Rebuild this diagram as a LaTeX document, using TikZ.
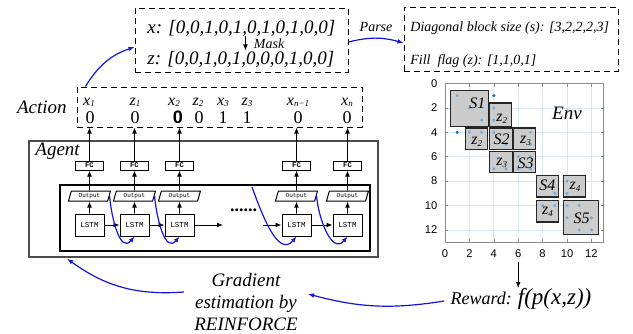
\documentclass[tikz,border=0pt]{standalone}
\usepackage{fontspec}
\setmainfont{Liberation Serif}
\setsansfont{Liberation Sans}
\setmonofont{Liberation Mono}
\usetikzlibrary{arrows.meta,positioning,shapes.geometric}

\definecolor{fbblue}{RGB}{20,20,220}
\definecolor{dotlight}{RGB}{120,170,215}
\definecolor{dotdark}{RGB}{0,110,200}
\definecolor{gridc}{RGB}{222,232,242}

% small index set a bit below the baseline
\newcommand{\lowsub}[1]{\raisebox{-0.25ex}{\fontsize{4.5}{5}\selectfont #1}}

\begin{document}
\begin{tikzpicture}[x=0.5pt,y=-0.5pt,
>={Latex[length=3pt,width=2.4pt]},
dashbox/.style={draw=black, line width=0.5pt, dash pattern=on 3pt off 2pt, inner sep=0pt},
fcbox/.style={draw=black, line width=0.5pt, minimum width=14pt, minimum height=4.5pt, inner sep=0pt, font=\ttfamily\bfseries\fontsize{3.6}{3.6}\selectfont},
outbox/.style={draw=black, line width=0.5pt, trapezium, trapezium left angle=72, trapezium right angle=108, trapezium stretches=true, minimum width=21pt, minimum height=5pt, inner sep=0pt, font=\ttfamily\fontsize{3}{3}\selectfont},
lstmbox/.style={draw=black, line width=0.5pt, minimum width=14.5pt, minimum height=11pt, inner sep=0pt, font=\ttfamily\fontsize{3.8}{3.8}\selectfont},
bigtxt/.style={font=\itshape\fontsize{9.5}{11}\selectfont, inner sep=0pt},
smalltxt/.style={font=\itshape\fontsize{7}{8}\selectfont, inner sep=0pt},
actlbl/.style={anchor=base, inner sep=0pt, font=\itshape\fontsize{8}{9}\selectfont},
actval/.style={anchor=base, inner sep=0pt, font=\fontsize{9}{10}\selectfont},
blocktxt/.style={inner sep=0pt, font=\itshape\fontsize{8}{9}\selectfont},
block/.style={draw=black!85, fill=black!20, line width=0.6pt},
feedback/.style={draw=fbblue, line width=0.6pt, ->}
]
\useasboundingbox (0,0) rectangle (633,333);

%Mask and parse boxes
\node[dashbox, minimum width=106.5pt, minimum height=32pt] (mbox) at (241.5,40) {};
\node[bigtxt, anchor=base west] (xseq) at (147,33) {x: [0,0,1,0,1,0,1,0,1,0,0]};
\node[bigtxt, anchor=base west] (zseq) at (147,64) {z: [0,0,1,0,1,0,0,0,1,0,0]};
\node[dashbox, minimum width=107pt, minimum height=32pt] (pbox) at (511,39) {};
\node[smalltxt, anchor=base west] (diag) at (410,31) {Diagonal block size (s): [3,2,2,2,3]};
\node[smalltxt, anchor=base west] (fill) at (410,64) {Fill~ flag (z): [1,1,0,1]};

%Action box
\node[dashbox, minimum width=142.5pt, minimum height=20pt] (abox) at (219.5,107) {};
\node[bigtxt, anchor=base east] (action) at (67,113) {Action};
\foreach \xl/\xv/\nm/\lab/\val in {
  89/90/1/{x\lowsub{1}}/0,
  135/135/2/{z\lowsub{1}}/0,
  174/178/3/{x\lowsub{2}}/{\sffamily\bfseries 0},
  198/199/4/{z\lowsub{2}}/0,
  223/223/5/{x\lowsub{3}}/1,
  247/247/6/{z\lowsub{3}}/1,
  298/298/7/{x\lowsub{n−1}}/0,
  347/347/8/{x\lowsub{n}}/0}
{
  \node[actlbl] (al\nm) at (\xl,105) {\lab};
  \node[actval] (av\nm) at (\xv,123) {\val};
}

%Agent
\node[draw=black!70, line width=0.8pt, minimum width=174.5pt, minimum height=58pt, inner sep=0pt] (agent) at (203.5,199) {};
\node[bigtxt, anchor=base west] (agentlbl) at (35,155) {Agent};
\node[draw=black, line width=0.7pt, minimum width=155pt, minimum height=33pt, inner sep=0pt] (rnn) at (215,218) {};
\foreach \i/\xx in {1/89.5, 2/134.5, 3/179.5, 4/296.5, 5/347.5}
{
  \node[lstmbox] (l\i) at (\xx,225) {LSTM};
  \node[outbox]  (o\i) [above=6pt of l\i] {Output};
  \node[fcbox]   (f\i) [above=10pt of o\i] {FC};
  \draw[->] (l\i) -- (o\i);
  \draw[->] (o\i) -- (f\i);
  \draw[->] (f\i) -- (f\i |- abox.south);
}
\coordinate (dtail) at (223,225);
\coordinate (dhead) at (263,225);
\node[inner sep=0pt, font=\bfseries\fontsize{9}{9}\selectfont] (dots) at (243.5,210) {......};
\draw[->] (l1) -- (l2);
\draw[->] (l2) -- (l3);
\draw[->] (l3) -- (dtail);
\draw[->] (dhead) -- (l4);
\draw[->] (l4) -- (l5);

%Hidden state feedback
\coordinate (hin) at (252,187);
\draw[feedback] (o1.east) to[out=-85, in=-130, looseness=1.2] (l2.south);
\draw[feedback] (o2.east) to[out=-85, in=-130, looseness=1.2] (l3.south);
\draw[feedback] (hin) to[out=-70, in=-130, looseness=1.1] (l4.south);
\draw[feedback] (o4.east) to[out=-85, in=-130, looseness=1.2] (l5.south);

%Env plot
\begin{scope}[shift={(445,83.5)}, x=6.1pt, y=-6.1pt]
  \foreach \g in {2,4,...,12}
  {
    \draw[gridc, line width=0.4pt] (\g,0) -- (\g,13);
    \draw[gridc, line width=0.4pt] (0,\g) -- (13,\g);
  }
  \foreach \g in {0,2,...,12}
  {
    \draw[black!45, line width=0.3pt] (\g,13) -- (\g,12.75);
    \draw[black!45, line width=0.3pt] (\g,0) -- (\g,0.25);
    \draw[black!45, line width=0.3pt] (0,\g) -- (0.25,\g);
    \draw[black!45, line width=0.3pt] (13,\g) -- (12.75,\g);
    \node[anchor=east, inner sep=0pt, font=\sffamily\fontsize{5.6}{6}\selectfont] (yt\g) at (-0.6,\g) {\g};
    \node[anchor=north, inner sep=0pt, font=\sffamily\fontsize{5.6}{6}\selectfont] (xt\g) at (\g,13.6) {\g};
  }
  \draw[black!45, line width=0.4pt] (0,0) rectangle (13,13);
  %Blocks
  \draw[block] (0.45,0.6) rectangle (3.55,3.55);
  \draw[block] (3.65,1.6) rectangle (5.45,3.5);
  \draw[block] (1.7,3.65) rectangle (3.5,5.4);
  \draw[block] (3.65,3.65) rectangle (5.5,5.4);
  \draw[block] (5.6,3.65) rectangle (7.45,5.4);
  \draw[block] (3.65,5.55) rectangle (5.5,7.3);
  \draw[block] (5.6,5.55) rectangle (7.45,7.3);
  \draw[block] (7.5,7.55) rectangle (9.3,9.3);
  \draw[block] (9.7,7.55) rectangle (11.5,9.3);
  \draw[block] (7.5,9.6) rectangle (9.3,11.35);
  \draw[block] (9.7,9.6) rectangle (12.6,12.35);
  %Nonzero entries
  \foreach \px/\py in {1/1,2/2,3/3,4/2,4/3,2/4,3/4,4/4,5/5,7/4,7/5,4/7,5/7,6/6,7/6,6/7,7/7,
    8/8,9/9,10/8,10/9,8/10,9/10,10/10,11/10,10/11,12/11,11/12,12/12}
    \fill[dotlight] (\px,\py) circle (0.85pt);
  \fill[dotdark] (4,1) circle (0.85pt);
  \fill[dotdark] (1,4) circle (0.85pt);
  %Block labels
  \node[blocktxt] (bs1) at (2.65,1.6) {S1};
  \node[blocktxt] (bz2a) at (4.65,2.9) {z\lowsub{2}};
  \node[blocktxt] (bz2b) at (2.6,4.75) {z\lowsub{2}};
  \node[blocktxt] (bs2) at (4.65,4.6) {S2};
  \node[blocktxt] (bz3a) at (6.6,4.7) {z\lowsub{3}};
  \node[blocktxt] (bz3b) at (4.65,6.5) {z\lowsub{3}};
  \node[blocktxt] (bs3) at (6.6,6.5) {S3};
  \node[blocktxt] (bs4) at (8.4,8.35) {S4};
  \node[blocktxt] (bz4a) at (10.65,8.45) {z\lowsub{4}};
  \node[blocktxt] (bz4b) at (8.4,10.55) {z\lowsub{4}};
  \node[blocktxt] (bs5) at (11.2,11.05) {S5};
  \node[bigtxt] (env) at (10,2.45) {Env};
\end{scope}

%Reward and gradient
\node[inner sep=0pt, font=\itshape\fontsize{9}{10}\selectfont] (reward) at (521,299)
  {Reward: {\fontsize{11.5}{12}\selectfont f(p(x,z))}};
\node[bigtxt, align=center, font=\itshape\fontsize{9.5}{11}\selectfont] (grad) at (246,302)
  {Gradient\\estimation by\\REINFORCE};

%Lines
\draw[->] ([xshift=2pt]xseq.south -| mbox.center) -- ([xshift=2pt]zseq.north -| mbox.center)
  node [midway, right=4pt, smalltxt] (mask) {Mask};
\draw[feedback] ([yshift=-1pt]mbox.east) to[bend left=15]
  node [midway, above=3pt, smalltxt] (parse) {Parse} ([yshift=-2pt]pbox.west);
\draw[feedback] ([xshift=4.5pt]abox.north west) to[bend left=20] ([yshift=-3.5pt]mbox.west);
\draw[->] ([yshift=-2pt]xt6.south) -- (xt6 |- reward.north);
\draw[feedback] ([xshift=-3pt,yshift=-1pt]reward.west) to[bend left=12] ([xshift=5pt,yshift=4pt]grad.east);
\draw[feedback] ([xshift=-5pt,yshift=5pt]grad.west) to[bend left=20] ([xshift=19.5pt,yshift=-0.5pt]agent.south west);
\end{tikzpicture}
\end{document}
